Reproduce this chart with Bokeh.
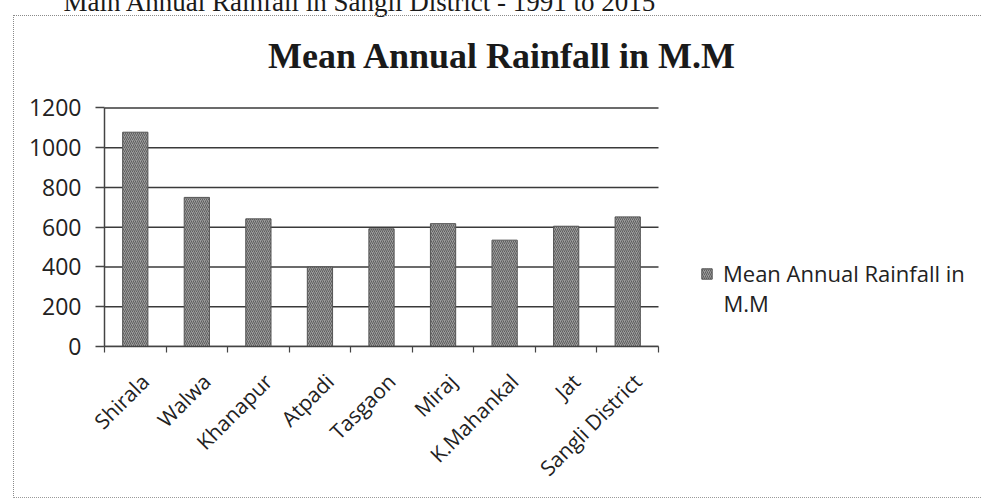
import math
from bokeh.plotting import figure
from bokeh.models import (Range1d, LinearAxis, FixedTicker, Legend, LegendItem, Label,
                          ColumnDataSource, InlineStyleSheet)
from bokeh.embed import file_html
from bokeh.resources import INLINE

# ---- data ----
categories = ["Shirala", "Walwa", "Khanapur", "Atpadi", "Tasgaon", "Miraj",
              "K.Mahankal", "Jat", "Sangli District"]
rainfall = [1078, 750, 642, 400, 592, 618, 535, 605, 652]
y_ticks = [0, 200, 400, 600, 800, 1000, 1200]
series_line1 = "Mean Annual Rainfall in"
series_line2 = "M.M"
chart_title = "Mean Annual Rainfall in M.M"
page_heading = "Main Annual Rainfall in Sangli District - 1991 to 2015"

# ---- layout (canvas px; canvas is lifted 16px above the page top) ----
LIFT = 16
W, H = 981, 516
TOP = 30                                            # frame top (below the heading strip)
PL, PR, PT, PB = 104, 658, 106 + LIFT, 346 + LIFT   # plot-area edges
YMAX = 1200
NCAT = len(categories)
CATW = (PR - PL) / NCAT
PXY = (PB - PT) / YMAX
centers = [i + 0.5 for i in range(NCAT)]      # slot centres on the category scale
bounds = list(range(NCAT + 1))                 # slot boundaries
label_pos = [c + 0.16 for c in centers]        # rotated labels end a little right of centre


def xd(cx):
    return (cx - PL) / CATW


def yd(cy):
    return (PB - cy) / PXY


p = figure(width=W, height=H, x_range=Range1d(0, xd(W)), y_range=Range1d(0, yd(TOP)),
           output_backend="svg", toolbar_location=None,
           x_axis_location=None, y_axis_location=None,
           min_border_left=PL, min_border_right=0,
           min_border_top=TOP, min_border_bottom=H - PB)
p.center = []
p.styles = {"margin-top": f"-{LIFT}px"}
p.stylesheets = [InlineStyleSheet(css=f"""
:host {{ position: relative; }}
:host::after {{ content: ''; position: absolute; pointer-events: none;
  left: 13px; top: {15 + LIFT}px; width: {W - 13}px; height: 483px;
  border-left: 1.5px dotted #8a8a8a; border-top: 1.5px dotted #8a8a8a;
  border-bottom: 1.5px dotted #9a9a9a; box-sizing: border-box; }}
""")]
p.outline_line_color = None
p.background_fill_color = "white"
p.border_fill_color = "white"

# page heading (cut off at the top, as in the scan)
p.title.text = page_heading
p.title.align = "left"
p.title.offset = 63 - PL
p.title.standoff = 0
p.title.text_font = "Liberation Serif"
p.title.text_font_style = "normal"
p.title.text_font_size = "27px"
p.title.text_color = "#1a1a1a"

# gridlines across the plot area only
p.segment(x0=[0] * len(y_ticks), x1=[NCAT] * len(y_ticks), y0=y_ticks, y1=y_ticks,
          line_color="#3a3a3a", line_width=1.6)

# y axis
yaxis = LinearAxis(ticker=FixedTicker(ticks=y_ticks), bounds=(0, YMAX),
                   axis_line_color="#444", axis_line_width=1.5,
                   major_tick_out=9, major_tick_in=0, major_tick_line_color="#444",
                   major_tick_line_width=1.5, minor_tick_line_color=None,
                   major_label_standoff=14, major_label_text_font="Open Sans",
                   major_label_text_font_size="23px", major_label_text_color="#222")
p.add_layout(yaxis, "left")

# x axis: boundary ticks, then category labels
tick_axis = LinearAxis(ticker=FixedTicker(ticks=bounds), bounds=(0, NCAT),
                       major_label_overrides={b: "" for b in bounds},
                       major_label_text_font_size="1px", major_label_standoff=0,
                       major_tick_out=6, major_tick_in=0, minor_tick_line_color=None,
                       axis_line_color="#444", axis_line_width=1.5,
                       major_tick_line_color="#444", major_tick_line_width=1.2)
p.add_layout(tick_axis, "below")
cat_axis = LinearAxis(ticker=FixedTicker(ticks=label_pos), bounds=(0, NCAT),
                      major_label_overrides={c: n for c, n in zip(label_pos, categories)},
                      axis_line_color=None, major_tick_line_color=None,
                      minor_tick_line_color=None,
                      major_label_orientation=math.pi / 4,
                      major_label_text_font="Open Sans",
                      major_label_text_font_size="21px",
                      major_label_text_color="#222", major_label_standoff=19)
p.add_layout(cat_axis, "below")

# bars
src = ColumnDataSource(dict(x=centers, val=rainfall, cat=categories))
bars = p.vbar(x="x", top="val", width=0.41, source=src,
              fill_color="#9c9c9c", hatch_pattern="/", hatch_color="#5e5e5e",
              hatch_scale=4, hatch_weight=1, line_color="#555555", line_width=1)

legend = Legend(items=[LegendItem(label=series_line1, renderers=[bars])],
                location=(596, 58), padding=0, margin=0, border_line_color=None,
                background_fill_alpha=0, glyph_width=13, glyph_height=13,
                label_standoff=10, label_text_font="Open Sans",
                label_text_font_size="22px", label_text_line_height=1.36,
                label_text_color="#222")
p.add_layout(legend, "center")
p.add_layout(Label(x=xd(723), y=yd(302 + LIFT), text=series_line2, text_align="left",
                   text_baseline="middle", text_font="Open Sans",
                   text_font_size="22px", text_color="#222"))

# chart title
p.add_layout(Label(x=xd(502), y=yd(54 + LIFT), text=chart_title, text_align="center",
                   text_baseline="alphabetic", text_font="Liberation Serif",
                   text_font_style="bold", text_font_size="36px", text_color="#1a1a1a"))

open("out.html", "w").write(file_html(p, INLINE))
